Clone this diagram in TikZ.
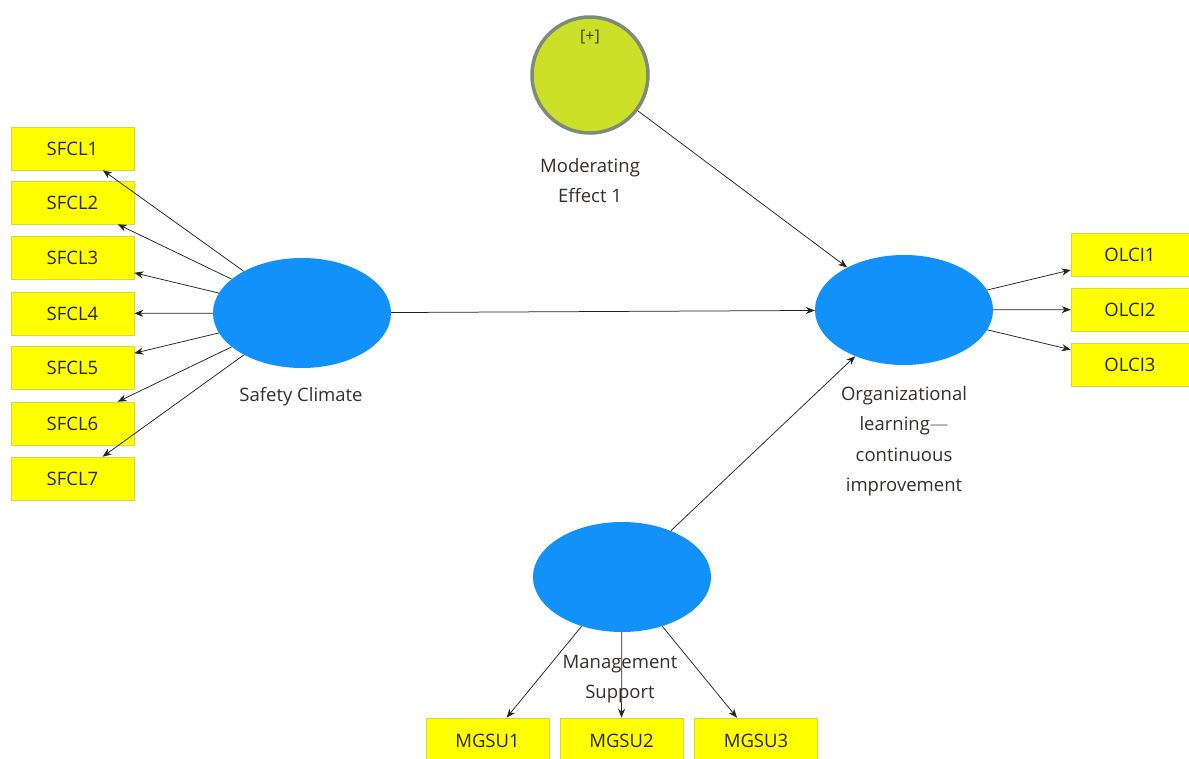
\documentclass[tikz,border=0pt]{standalone}
\usepackage{fontspec}
\setmainfont{Open Sans}
\usetikzlibrary{shapes.geometric,arrows.meta}
\definecolor{boxyellow}{RGB}{255,255,0}
\definecolor{boxedge}{RGB}{215,215,60}
\definecolor{lvblue}{RGB}{18,145,250}
\definecolor{modfill}{RGB}{204,224,40}
\definecolor{modedge}{RGB}{125,140,120}
\definecolor{labeltext}{RGB}{55,45,45}
\definecolor{arrowcol}{RGB}{35,35,35}
\begin{document}
\begin{tikzpicture}[x=1pt,y=-1pt,
  indicator/.style={draw=boxedge,line width=0.6pt,fill=boxyellow,minimum width=123pt,minimum height=43pt,inner sep=0pt,font=\fontsize{18.5}{20}\selectfont,text=black!85},
  latent/.style={ellipse,fill=lvblue,draw=none,minimum width=178pt,minimum height=110pt,inner sep=0pt},
  modcircle/.style={circle,fill=modfill,draw=modedge,line width=3.5pt,minimum size=116pt,inner sep=0pt},
  lvlabel/.style={font=\fontsize{18.5}{30.5}\selectfont,text=labeltext,align=center,inner sep=0pt},
  path/.style={draw=arrowcol,line width=0.75pt,-{Stealth[length=9pt,width=7pt]}}
]
\useasboundingbox (0,0) rectangle (1189,758);
\fill[white] (0,0) rectangle (1189,758);

% latent variables
\node[latent] (sc) at (302,313) {};
\node[latent] (ol) at (904,310) {};
\node[latent] (ms) at (622,577) {};
\node[modcircle] (me) at (590,75) {};
\node[font=\fontsize{16}{17}\selectfont,text=black!75,inner sep=0pt] (plus) at (590,37) {[+]};

% labels
\node[lvlabel] (sclab) at (301,397) {Safety Climate};
\node[lvlabel,anchor=north] (mclab) at (590,158) {Moderating\\Effect 1};
\node[lvlabel,anchor=north] (ollab) at (904,386) {Organizational\\learning\textcolor{black!40}{—}\\continuous\\improvement};

% indicators
\foreach \i/\y in {1/148.5,2/202.5,3/258,4/313.5,5/368,6/423.5,7/478.5}{
  \node[indicator] (sfcl\i) at (72.5,\y) {SFCL\i};
}
\foreach \i/\y in {1/255,2/309.5,3/364.5}{
  \node[indicator,minimum width=124pt] (olci\i) at (1133,\y) {\hspace*{-6pt}OLCI\i};
}
\foreach \i/\x in {1/487.5,2/621.5,3/756}{
  \node[indicator,minimum height=46pt] (mgsu\i) at (\x,741) {MGSU\i};
}

% outer loadings
\foreach \i in {1,...,7}{\draw[path] (sc) -- (sfcl\i);}
\foreach \i in {1,2,3}{\draw[path] (ol) -- (olci\i);}
\foreach \i in {1,2,3}{\draw[path] (ms) -- (mgsu\i);}

% structural paths
\draw[path] (sc) -- (ol);
\draw[path] (me) -- (ol);
\draw[path] (ms) -- (ol);

\node[lvlabel,anchor=north] (mslab) at (620,655) {Management\\Support};
\end{tikzpicture}
\end{document}
